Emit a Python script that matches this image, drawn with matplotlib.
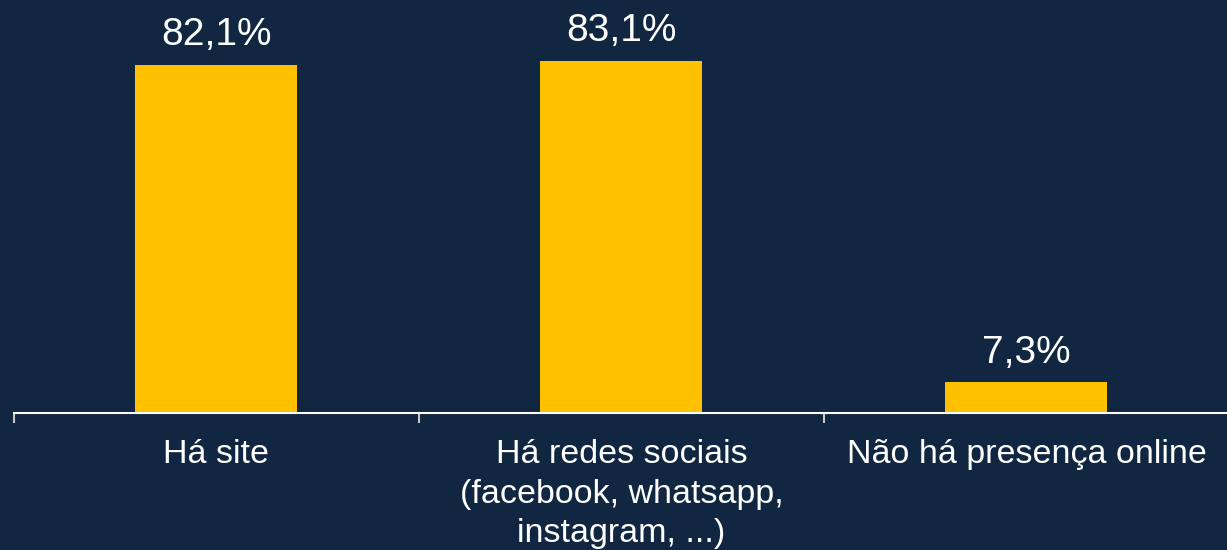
import matplotlib
matplotlib.use("Agg")
import matplotlib.pyplot as plt
import numpy as np

categories = ["Há site", "Há redes sociais\n(facebook, whatsapp,\ninstagram, ...)", "Não há presença online"]
values = [82.1, 83.1, 7.3]
value_labels = ["82,1%", "83,1%", "7,3%"]

bg_ = '#112640'
bar_ = '#FFC000'
font_ = 'Liberation Sans'

fig = plt.figure(figsize=(12.27, 5.5), dpi=100, facecolor=bg_)
ax = fig.add_axes([14 / 1227, 137 / 550, 1215 / 1227, 413 / 550])
ax.set_facecolor(bg_)

x = np.arange(len(categories))
ax.bar(x, values, 0.4, color=bar_, edgecolor='none', zorder=2)

for xi, v, lab in zip(x, values, value_labels):
    ax.annotate(lab, (xi, v), xytext=(0, 14), textcoords='offset points',
                ha='center', va='baseline', color='white', fontsize=28, family=font_)

ax.set_xlim(-0.5, 2.5)
ax.set_ylim(0, 97.4)

for s in ['top', 'right', 'left']:
    ax.spines[s].set_visible(False)
ax.spines['bottom'].set_color('white')
ax.spines['bottom'].set_linewidth(1.5)
ax.spines['bottom'].set_zorder(3)
ax.set_yticks([])

ax.set_xticks(x)
ax.set_xticklabels(categories, fontsize=24.5, color='white', family=font_, linespacing=1.35)
ax.tick_params(axis='x', which='major', length=0, pad=19)
ax.set_xticks([-0.5, 0.5, 1.5, 2.5], minor=True)
ax.tick_params(axis='x', which='minor', length=7.5, width=1.5, color='#c8c8c8')

fig.savefig("out.png", dpi=100, facecolor=bg_)
